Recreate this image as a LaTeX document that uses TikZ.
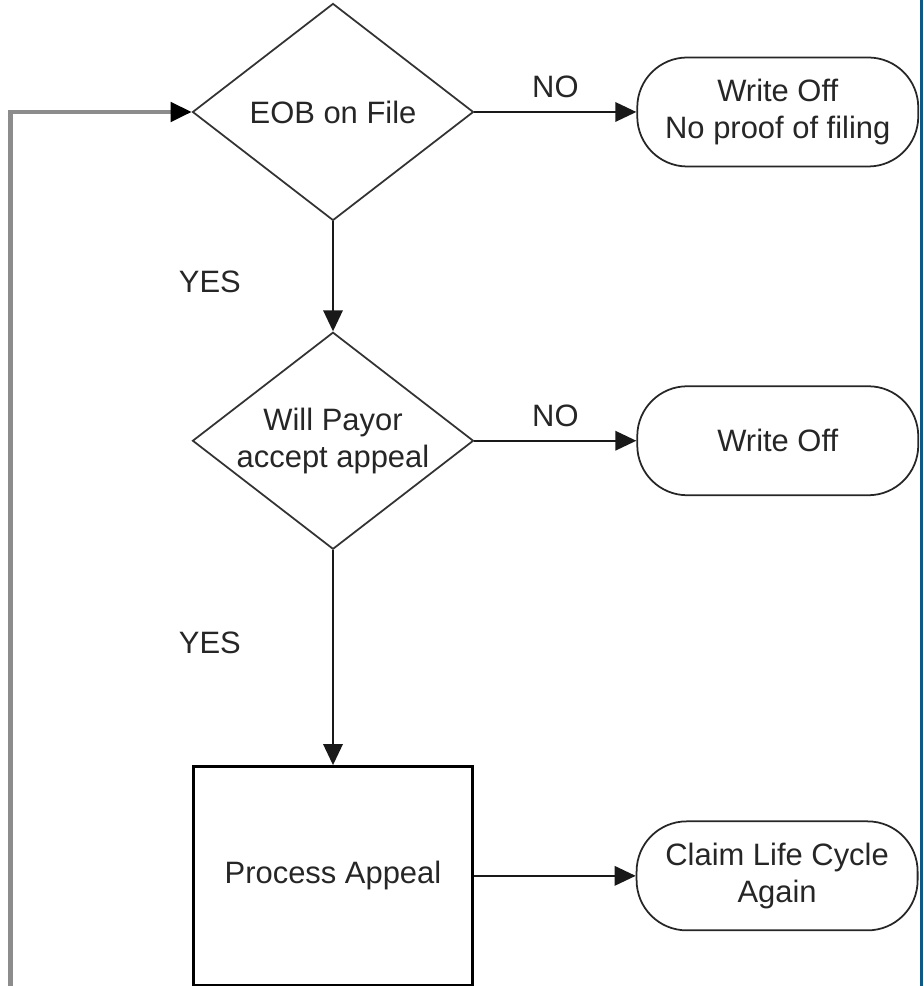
\documentclass[tikz,border=0pt]{standalone}
\usepackage{fontspec}
\setmainfont{Liberation Sans}
\usetikzlibrary{positioning,calc,arrows.meta,shapes.geometric}
\definecolor{edgeblue}{RGB}{14,90,134}

\begin{document}
\begin{tikzpicture}[->, >={Triangle[length=12pt, width=11pt]}, node distance=2.2cm and 3.24cm, font=\fontsize{17.6}{21}\selectfont, decision/.style = {diamond, draw=black!80, line width=1pt, aspect=1.29, minimum width=5.62cm, minimum height=4.34cm, inner sep=0pt, align=center, text=black!85}, terminal/.style = {rectangle, rounded corners=1cm, draw=black!85, line width=1pt, minimum width=5.62cm, minimum height=2.18cm, align=center, text=black!85}, process/.style = {rectangle, draw=black, line width=1.4pt, minimum width=5.58cm, minimum height=4.38cm, text=black!85}, tag/.style = {inner sep=0pt, text=black!85}, every edge/.append style={line width=1.4pt, black!90}]

\useasboundingbox (0,0) rectangle (18.46,19.72);
\fill[edgeblue] (18.40,0) rectangle (18.46,19.72);

\node[decision] (eob) at (6.66,17.48) {EOB on File};
\node[terminal, right=of eob] (wo1) {Write Off\\No proof of filing};
\node[decision, below=of eob] (will) {Will Payor\\accept appeal};
\node[terminal, right=of will] (wo2) {Write Off};
\node[process, below=4.3cm of will] (proc) {Process Appeal};
\node[terminal, right=of proc] (claim) {Claim Life Cycle\\Again};

\coordinate (loopstart) at (0.21,0);

\path
 (eob) edge node[tag, midway, above=0.26cm] {NO} (wo1)
 (eob) edge node[tag, pos=0.55, left=1.82cm] {YES} (will)
 (will) edge node[tag, midway, above=0.26cm] {NO} (wo2)
 (will) edge node[tag, pos=0.43, left=1.82cm] {YES} (proc)
 (proc) edge (claim);

\draw[black!45, line width=2.4pt, -{Triangle[length=12pt, width=11pt, black]}] (loopstart) |- (eob.west);
\end{tikzpicture}
\end{document}
